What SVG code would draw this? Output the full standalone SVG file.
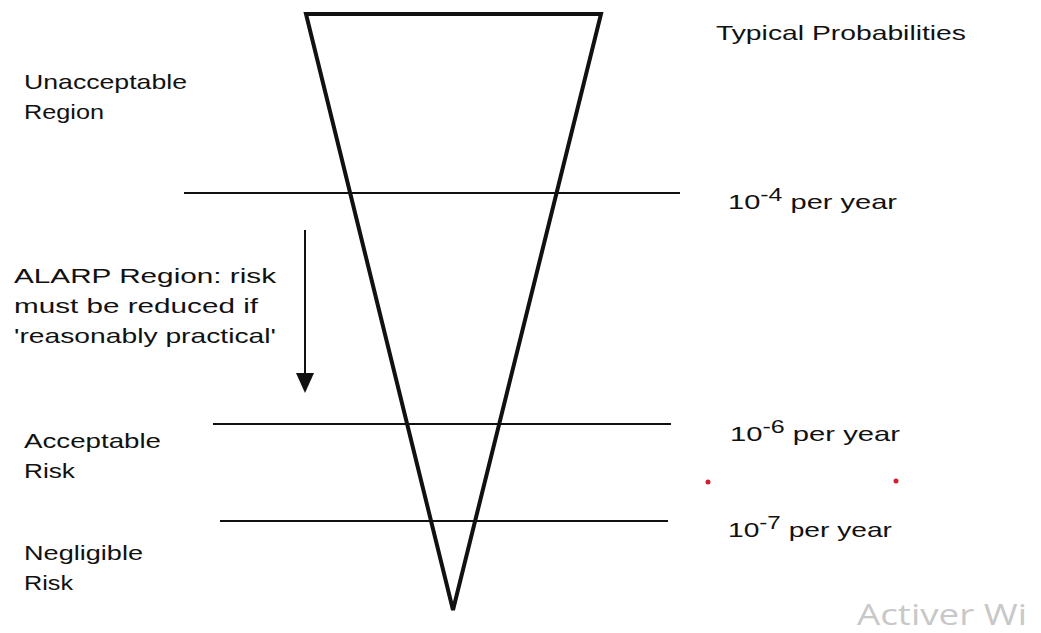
<svg xmlns="http://www.w3.org/2000/svg" width="1041" height="633" viewBox="0 0 1041 633">
<style>
.t{font-family:"Liberation Sans",Arial,sans-serif;font-size:21px;fill:#111}
.sup{font-size:18px}
.ln{stroke:#111;stroke-width:2;fill:none}
</style>
<rect width="1041" height="633" fill="#fff"/>
<g id="connectors">
<polygon id="triangle" points="306,14 601,14 453,610" fill="none" stroke="#111" stroke-width="4" stroke-linejoin="miter"/>
<line class="ln" x1="184" y1="193" x2="680" y2="193"/>
<line class="ln" x1="213" y1="424" x2="671" y2="424"/>
<line class="ln" x1="220" y1="521" x2="668" y2="521"/>
<line class="ln" x1="305" y1="230" x2="305" y2="375"/>
<polygon points="296,373 314,373 305,393" fill="#111"/>
</g>
<g id="title"><text class="t" x="716" y="40" textLength="250" lengthAdjust="spacingAndGlyphs">Typical Probabilities</text></g>
<g id="unacceptable"><text class="t" x="24" y="89" textLength="163" lengthAdjust="spacingAndGlyphs">Unacceptable</text><text class="t" x="24" y="119" textLength="80" lengthAdjust="spacingAndGlyphs">Region</text></g>
<g id="p4"><text class="t" x="728" y="209" textLength="169" lengthAdjust="spacingAndGlyphs">10<tspan class="sup" dy="-8">-4</tspan><tspan dy="8"> per year</tspan></text></g>
<g id="alarp"><text class="t" x="14" y="283" textLength="262" lengthAdjust="spacingAndGlyphs">ALARP Region: risk</text><text class="t" x="14" y="313" textLength="244" lengthAdjust="spacingAndGlyphs">must be reduced if</text><text class="t" x="14" y="343" textLength="262" lengthAdjust="spacingAndGlyphs">'reasonably practical'</text></g>
<g id="acceptable"><text class="t" x="24" y="448" textLength="137" lengthAdjust="spacingAndGlyphs">Acceptable</text><text class="t" x="24" y="478" textLength="51" lengthAdjust="spacingAndGlyphs">Risk</text></g>
<g id="p6"><text class="t" x="730" y="441" textLength="170" lengthAdjust="spacingAndGlyphs">10<tspan class="sup" dy="-8">-6</tspan><tspan dy="8"> per year</tspan></text></g>
<g id="p7"><text class="t" x="728" y="537" textLength="164" lengthAdjust="spacingAndGlyphs">10<tspan class="sup" dy="-8">-7</tspan><tspan dy="8"> per year</tspan></text></g>
<g id="negligible"><text class="t" x="24" y="560" textLength="119" lengthAdjust="spacingAndGlyphs">Negligible</text><text class="t" x="24" y="590" textLength="49" lengthAdjust="spacingAndGlyphs">Risk</text></g>
<circle cx="708" cy="482" r="2.5" fill="#d02030"/>
<circle cx="896" cy="481" r="2.5" fill="#d02030"/>
<text x="857" y="625" textLength="170" lengthAdjust="spacingAndGlyphs" style="font-family:'Open Sans','Noto Sans',sans-serif;font-size:29px;fill:#c8c8c8">Activer Wi</text>
</svg>
